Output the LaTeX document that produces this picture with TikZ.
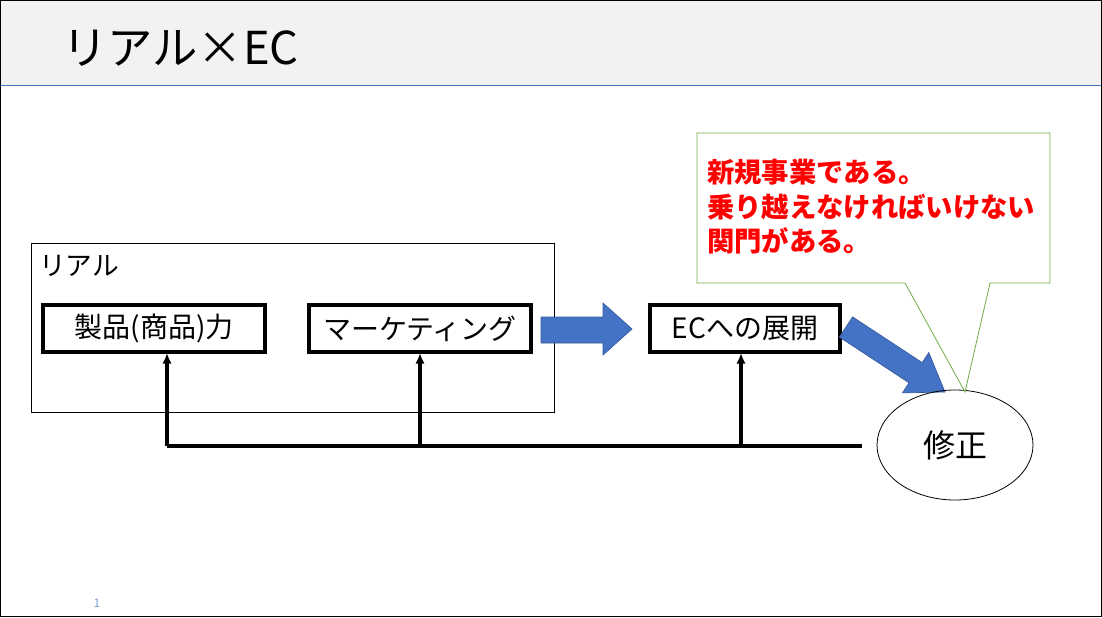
\documentclass[tikz,border=0pt]{standalone}
\usepackage{fontspec}
\setmainfont{Noto Sans CJK JP}
\begin{document}
\begin{tikzpicture}[x=0.75pt,y=-0.75pt,
  boxs/.style={draw=black,line width=2.4pt,minimum width=222*0.75pt,minimum height=47*0.75pt,font=\fontsize{21}{24}\selectfont,inner sep=0pt},
  blk/.style={fill=blue1,draw=blue1!80!black,line width=0.5pt},
  conn/.style={line width=2.4pt,-{Latex[length=8pt,width=7pt]}}]
\usetikzlibrary{arrows.meta,shapes.geometric}
\definecolor{blue1}{HTML}{4472C4}
\definecolor{band}{HTML}{F2F2F2}
\definecolor{grn}{HTML}{70AD47}
\useasboundingbox (0,0) rectangle (1102,617);
\fill[band] (0,0) rectangle (1102,85);
\draw[blue1,line width=0.6pt] (0,85) -- (1102,85);
\draw[black,line width=0.8pt] (0.5,0.5) rectangle (1101.5,616.5);
\node[anchor=west,font=\fontsize{34}{36}\selectfont,inner sep=0pt] (title) at (62,48) {リアル×EC};
\draw[line width=0.6pt] (31,243) rectangle (554,412);
\node[anchor=west,font=\fontsize{20}{22}\selectfont,inner sep=0pt] (real) at (39,266) {リアル};
\node[boxs] (p) at (154,328.5) {製品(商品)力};
\node[boxs] (m) at (420,328.5) {マーケティング};
\node[boxs,minimum width=190*0.75pt] (ec) at (745,328.5) {ECへの展開};
\fill[blk] (541,317) -- (603,317) -- (603,303) -- (632,329) -- (603,355) -- (603,343) -- (541,343) -- cycle;
\fill[blk] (852.6,316.9) -- (922.2,362.6) -- (928.8,352.5) -- (945,392) -- (902.4,392.9) -- (909,382.8) -- (839.4,337.1) -- cycle;
\node[ellipse,draw,line width=0.6pt,minimum width=156*0.75pt,minimum height=110*0.75pt,font=\fontsize{24}{26}\selectfont] (fix) at (955,445) {修正};
\draw[grn,line width=0.6pt,fill=white] (697,133) -- (1050,133) -- (1050,283) -- (990,283) -- (965,392) -- (905,283) -- (697,283) -- cycle;
\node[anchor=north west,align=left,text=red,font=\bfseries\fontsize{20.5}{26}\selectfont,inner sep=0pt] (note) at (707,159) {新規事業である。\\乗り越えなければいけない\\関門がある。};
\coordinate (a) at (167,446);
\coordinate (b) at (420,446);
\coordinate (c) at (741,446);
\draw[line width=2.4pt] (a) -- (862,446);
\draw[conn] (a) -- (167,353);
\draw[conn] (b) -- (420,353);
\draw[conn] (c) -- (741,353);
\node[text=blue1!70,font=\fontsize{9}{10}\selectfont] (pg) at (97,603) {1};
\end{tikzpicture}
\end{document}
